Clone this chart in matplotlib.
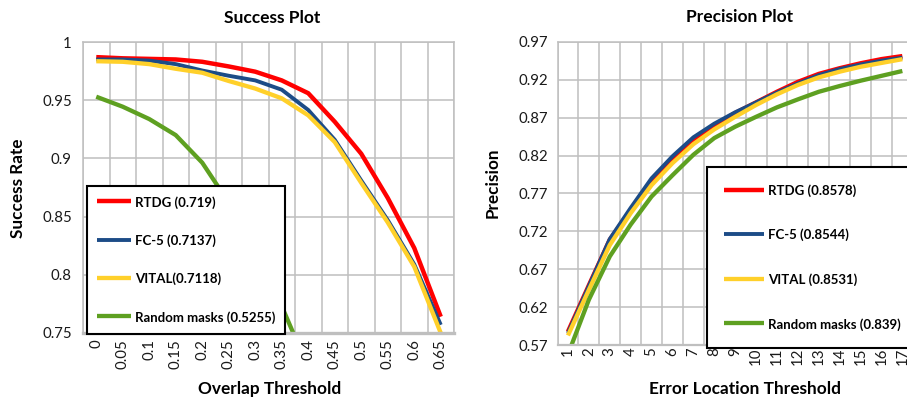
import matplotlib
matplotlib.use('Agg')
import matplotlib.pyplot as plt
import numpy as np

plt.rcParams['font.family'] = ['Lato', 'DejaVu Sans']

# ---------------- data ----------------
overlap_labels = ['0', '0.05', '0.1', '0.15', '0.2', '0.25', '0.3', '0.35',
                  '0.4', '0.45', '0.5', '0.55', '0.6', '0.65']
succ_rtdg = [0.987, 0.986, 0.9855, 0.985, 0.983, 0.979, 0.9745, 0.967,
             0.956, 0.9315, 0.904, 0.866, 0.823, 0.764]
succ_fc5 = [0.985, 0.985, 0.984, 0.981, 0.9755, 0.971, 0.967, 0.959,
            0.9416, 0.916, 0.881, 0.847, 0.809, 0.757]
succ_vital = [0.9835, 0.983, 0.981, 0.977, 0.9736, 0.9665, 0.960, 0.9516,
              0.937, 0.914, 0.879, 0.845, 0.807, 0.750]
succ_random = [0.953, 0.9444, 0.9338, 0.920, 0.8963, 0.862, 0.820, 0.773,
               0.720, 0.660, 0.590, 0.510, 0.420, 0.330]

error_labels = ['1', '2', '3', '4', '5', '6', '7', '8', '9', '10', '11',
                '12', '13', '14', '15', '16', '17']
prec_rtdg = [0.588, 0.649, 0.709, 0.748, 0.786, 0.815, 0.8405, 0.860, 0.876,
             0.890, 0.904, 0.917, 0.9275, 0.935, 0.9415, 0.947, 0.951]
prec_fc5 = [0.586, 0.648, 0.710, 0.751, 0.790, 0.819, 0.844, 0.862, 0.877,
            0.890, 0.903, 0.915, 0.926, 0.934, 0.940, 0.945, 0.949]
prec_vital = [0.583, 0.643, 0.702, 0.744, 0.781, 0.810, 0.835, 0.8545, 0.871,
              0.8866, 0.9007, 0.913, 0.923, 0.9305, 0.937, 0.942, 0.947]
prec_random = [0.558, 0.630, 0.687, 0.729, 0.766, 0.794, 0.821, 0.843, 0.858,
               0.871, 0.8835, 0.894, 0.904, 0.9116, 0.9186, 0.925, 0.9314]

succ_names = ['RTDG (0.719)', 'FC-5 (0.7137)', 'VITAL(0.7118)', 'Random masks (0.5255)']
prec_names = ['RTDG (0.8578)', 'FC-5 (0.8544)', 'VITAL (0.8531)', 'Random masks (0.839)']

succ_yticks = [0.75, 0.8, 0.85, 0.9, 0.95, 1.0]
succ_ylabels = ['0.75', '0.8', '0.85', '0.9', '0.95', '1']
prec_yticks = [0.57, 0.62, 0.67, 0.72, 0.77, 0.82, 0.87, 0.92, 0.97]
prec_ylabels = ['0.57', '0.62', '0.67', '0.72', '0.77', '0.82', '0.87', '0.92', '0.97']

colors = ['#FF0000', '#1C4C87', '#FFD02A', '#5EA021']
widths = [3.2, 2.8, 3.1, 3.1]

GRID = '#BFBFBF'
W, H = 907, 400
fig = plt.figure(figsize=(W / 100, H / 100), dpi=100)


def px_axes(x0, y0, x1, y1):
    return fig.add_axes([x0 / W, 1 - y1 / H, (x1 - x0) / W, (y1 - y0) / H])


def style_axes(ax, n, ylim, yticks, ylabels, xlabels, ypad, xpad, bottom_lw):
    ax.set_xlim(-0.5, n - 0.5)
    ax.set_ylim(*ylim)
    ax.set_xticks(np.arange(len(xlabels)))
    ax.set_xticklabels(xlabels, rotation=90)
    ax.set_xticks(np.arange(len(xlabels) + 1) - 0.5, minor=True)
    ax.set_yticks(yticks)
    ax.set_yticklabels(ylabels)
    ax.tick_params(axis='both', which='both', length=0, labelsize=10.8, colors='#1a1a1a')
    ax.tick_params(axis='y', pad=ypad)
    ax.tick_params(axis='x', pad=xpad)
    ax.grid(which='minor', axis='x', color=GRID, linewidth=1.1)
    ax.grid(which='major', axis='y', color=GRID, linewidth=1.1)
    ax.set_axisbelow(True)
    for s in ax.spines.values():
        s.set_color(GRID)
        s.set_linewidth(1.1)
    ax.spines['bottom'].set_linewidth(bottom_lw)


# ---------------- Success plot ----------------
ax1 = px_axes(83, 42, 454, 333)
xs = np.arange(len(overlap_labels))
for ys, c, lw, name in zip([succ_rtdg, succ_fc5, succ_vital, succ_random],
                           colors, widths, succ_names):
    ax1.plot(xs, ys, color=c, lw=lw, label=name, solid_capstyle='butt',
             solid_joinstyle='round')
style_axes(ax1, len(overlap_labels), (0.75, 1.0), succ_yticks, succ_ylabels,
           overlap_labels, 8, 4.5, 2.4)
leg1 = ax1.legend(loc='upper left', bbox_to_anchor=(87 / W, 1 - 186 / H),
                  bbox_transform=fig.transFigure, frameon=True, fancybox=False,
                  edgecolor='black', framealpha=1, borderaxespad=0,
                  prop=dict(weight='bold', size=9.5), handlelength=2.6,
                  handletextpad=0.3, borderpad=0.75, handleheight=1.0,
                  labelspacing=1.95)
leg1.get_frame().set_linewidth(1.5)

# ---------------- Precision plot ----------------
ax2 = px_axes(557.5, 41.7, 907, 345.3)
xs2 = np.arange(len(error_labels))
for ys, c, lw, name in zip([prec_rtdg, prec_fc5, prec_vital, prec_random],
                           colors, widths, prec_names):
    ax2.plot(xs2, ys, color=c, lw=lw, label=name, solid_capstyle='butt',
             solid_joinstyle='round')
style_axes(ax2, len(error_labels), (0.57, 0.97), prec_yticks, prec_ylabels,
           error_labels, 6.8, 1.5, 1.6)
ax2.set_xlim(-0.5, -0.5 + (907 - 557.5) / 20.9)
ax2.spines['right'].set_visible(False)
leg2 = ax2.legend(loc='upper left', bbox_to_anchor=(707 / W, 1 - 167 / H),
                  bbox_transform=fig.transFigure, frameon=True, fancybox=False,
                  edgecolor='black', framealpha=1, borderaxespad=0,
                  prop=dict(weight='bold', size=9.5), handlelength=3.0,
                  handletextpad=0.3, borderpad=1.3, handleheight=1.0,
                  labelspacing=2.42)
leg2.get_frame().set_linewidth(1.5)

# ---------------- titles & axis titles ----------------
fig.text(272 / W, 1 - 18 / H, 'Success Plot', ha='center', va='center',
         fontsize=12.5, fontweight='bold')
fig.text(740 / W, 1 - 17 / H, 'Precision Plot', ha='center', va='center',
         fontsize=12.5, fontweight='bold')
fig.text(270 / W, 1 - 389 / H, 'Overlap Threshold', ha='center', va='center',
         fontsize=12.4, fontweight='bold')
fig.text(745 / W, 1 - 389 / H, 'Error Location Threshold', ha='center',
         va='center', fontsize=12.4, fontweight='bold')
fig.text(18 / W, 1 - 188 / H, 'Success Rate', ha='center', va='center',
         rotation=90, fontsize=12.3, fontweight='bold')
fig.text(493 / W, 1 - 183 / H, 'Precision', ha='center', va='center',
         rotation=90, fontsize=12.3, fontweight='bold')

fig.savefig('out.png', dpi=100)
